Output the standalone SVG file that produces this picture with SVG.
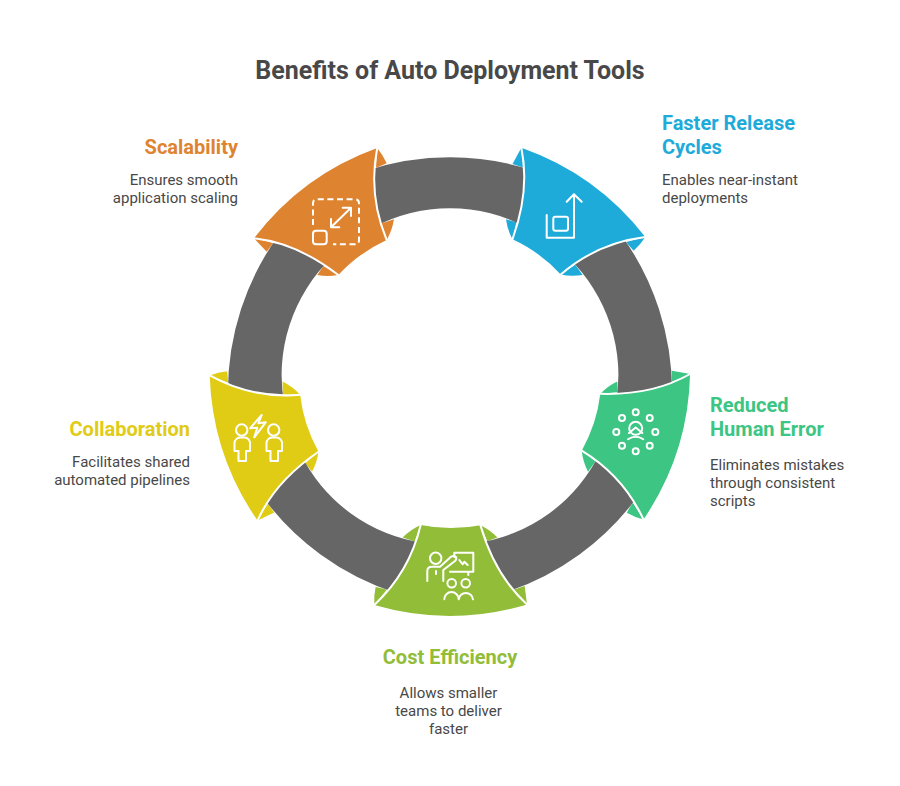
<svg xmlns="http://www.w3.org/2000/svg" xmlns:xlink="http://www.w3.org/1999/xlink" width="900" height="786" viewBox="0 0 900 786">
<style>
text{font-family:Roboto,"Liberation Sans",sans-serif}
.t{font-size:25px;font-weight:700;fill:#484848}
.h{font-size:20px;font-weight:700}
.d{font-size:15px;fill:#484848}
.e{text-anchor:end}
.m{text-anchor:middle}
.edge{fill:none;stroke:#fff;stroke-width:2;stroke-linecap:round}
.ic{fill:none;stroke:#fff;stroke-width:2;stroke-linecap:round;stroke-linejoin:round}
.arc{fill:#666}
</style>
<defs>
<g id="ears">
<path d="M377.2 148Q383 155 386.7 163.3Q381 166 376 167.7Z"/>
<path d="M381.7 223.3L394 219.3Q392 231 386.7 240Z"/>
<path d="M254 238.3L266.7 251.7L273.3 242.7Z"/>
<path d="M338.3 275Q327 277 317.3 275L323.3 266Z"/>
</g>
<g id="seg">
<path d="M377.2 148A270 270 0 0 0 254 238.3Q297 243 338.3 275A151 151 0 0 1 386.7 240Q368 195 377.2 148Z"/>
<path class="edge" d="M254 238.3Q297 243 338.3 275M386.7 240Q368 195 377.2 148"/>
</g>
<path id="band" class="arc" d="M366 170.8A268 268 0 0 1 534 170.8L528 228.2A163 163 0 0 0 372 228.2Z"/>
</defs>
<text class="t m" x="450" y="79">Benefits of Auto Deployment Tools</text>
<g id="ear-pieces">
<use href="#ears" fill="#de8431"/>
<use href="#ears" fill="#1eabda" transform="rotate(72 450 377)"/>
<use href="#ears" fill="#3cc583" transform="rotate(144 450 377)"/>
<use href="#ears" fill="#92bd39" transform="rotate(216 450 377)"/>
<use href="#ears" fill="#e0cb15" transform="rotate(288 450 377)"/>
</g>
<g id="connectors">
<use href="#band"/>
<use href="#band" transform="rotate(72 450 377)"/>
<use href="#band" transform="rotate(144 450 377)"/>
<use href="#band" transform="rotate(216 450 377)"/>
<use href="#band" transform="rotate(288 450 377)"/>
</g>
<g id="node-scalability">
<use href="#seg" fill="#de8431"/>
<rect class="ic" x="313" y="230.7" width="13.7" height="13.6" rx="3"/>
<path class="ic" style="stroke-linecap:butt" stroke-dasharray="6 3.6" d="M313 225V203.3Q313 199.3 317 199.3H355Q359 199.3 359 203.3V240.3Q359 244.3 355 244.3H333"/>
<path class="ic" d="M331 227.3L351 207.7M342.7 207.7H351V216M331 219V227.3H339.3"/>
<text class="h e" x="238" y="154" fill="#de8431">Scalability</text>
<text class="d e" x="238" y="185">Ensures smooth</text>
<text class="d e" x="238" y="203">application scaling</text>
</g>
<g id="node-faster">
<use href="#seg" fill="#1eabda" transform="rotate(72 450 377)"/>
<path class="ic" d="M546.7 215V237.7H574V194.3M566.7 201.7L574 194.3L581.7 201.7"/>
<rect class="ic" x="553.3" y="216.7" width="14.7" height="14" rx="2"/>
<text class="h" x="662" y="130" fill="#1eabda">Faster Release</text>
<text class="h" x="662" y="154" fill="#1eabda">Cycles</text>
<text class="d" x="662" y="185">Enables near-instant</text>
<text class="d" x="662" y="203">deployments</text>
</g>
<g id="node-reduced">
<use href="#seg" fill="#3cc583" transform="rotate(144 450 377)"/>
<g class="ic">
<circle cx="635.7" cy="412.3" r="3"/><circle cx="649.7" cy="418" r="3"/><circle cx="655.3" cy="432" r="3"/><circle cx="649.7" cy="445.7" r="3"/><circle cx="635.7" cy="451.3" r="3"/><circle cx="622" cy="445.7" r="3"/><circle cx="616.3" cy="432" r="3"/><circle cx="622" cy="418" r="3"/>
<circle cx="635.7" cy="428.3" r="6.5"/>
<path d="M629 433L635.7 427.5L642.3 433M628 439.3Q635.7 434 643.3 439.3"/>
</g>
<text class="h" x="710" y="412" fill="#3cc583">Reduced</text>
<text class="h" x="710" y="436" fill="#3cc583">Human Error</text>
<text class="d" x="710" y="470">Eliminates mistakes</text>
<text class="d" x="710" y="488">through consistent</text>
<text class="d" x="710" y="506">scripts</text>
</g>
<g id="node-cost">
<use href="#seg" fill="#92bd39" transform="rotate(216 450 377)"/>
<g class="ic">
<circle cx="435.7" cy="558.3" r="5.7"/>
<path d="M427.3 581V571Q427.3 566.7 432 566.7H440L451 556.7Q454 555 456 557Q457 559 455 561L443.3 570V581M436 571V574"/>
<path d="M454.3 557V552.7H473.3V571.7H450M468.3 571.7V575M459.3 560L462.7 564.3L464.3 561.7L467.7 565"/>
<circle cx="451.7" cy="583.3" r="4.3"/><circle cx="465.7" cy="583.3" r="4.3"/>
<path d="M444.3 599.3A7.2 7.2 0 0 1 458.7 599.3A7.2 7.2 0 0 1 473 599.3"/>
</g>
<text class="h m" x="450" y="664" fill="#92bd39">Cost Efficiency</text>
<text class="d m" x="448.5" y="698">Allows smaller</text>
<text class="d m" x="448.5" y="716">teams to deliver</text>
<text class="d m" x="448.5" y="734">faster</text>
</g>
<g id="node-collaboration">
<use href="#seg" fill="#e0cb15" transform="rotate(288 450 377)"/>
<g class="ic">
<circle cx="241.7" cy="430" r="5.7"/><circle cx="273.7" cy="430" r="5.7"/>
<path d="M238.5 461V451H234.5V443A6 6 0 0 1 240 437.5H244.5A6 6 0 0 1 250 443V451H246V461Z"/>
<path d="M270.5 461V451H266.5V443A6 6 0 0 1 272 437.5H276.5A6 6 0 0 1 282 443V451H278V461Z"/>
<path d="M261.7 415L250 428.3L257.3 427.7L254.3 437.3L265.7 422.3L258.3 423.3Z"/>
</g>
<text class="h e" x="190" y="436" fill="#e0cb15">Collaboration</text>
<text class="d e" x="190" y="467">Facilitates shared</text>
<text class="d e" x="190" y="485">automated pipelines</text>
</g>
</svg>
